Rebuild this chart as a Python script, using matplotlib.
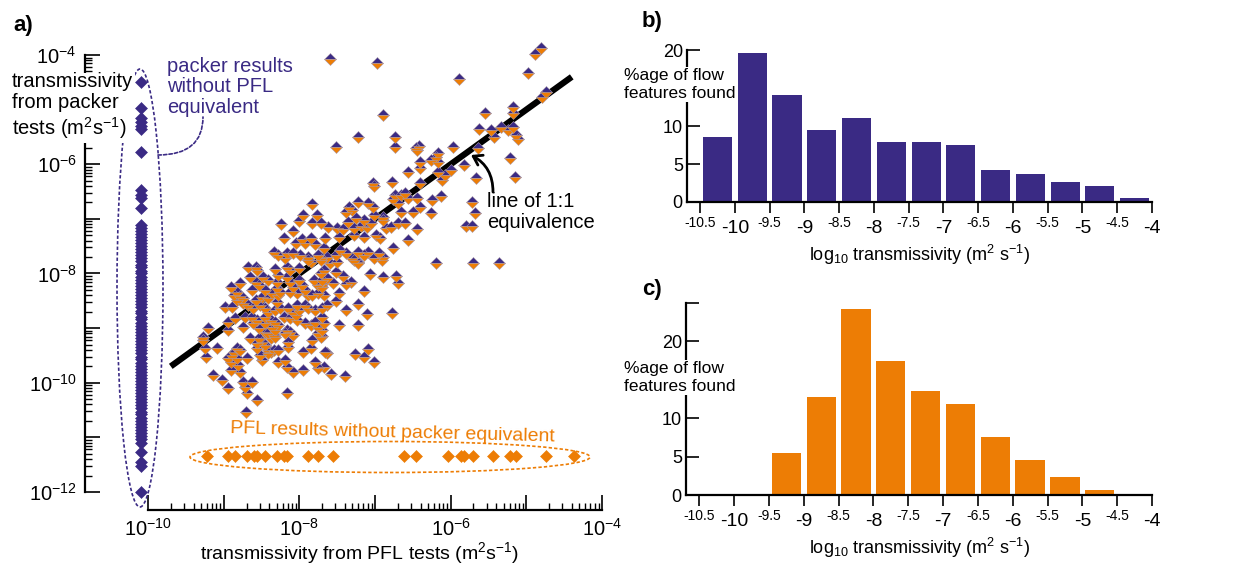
import numpy as np
import matplotlib.pyplot as plt
from matplotlib.patches import Ellipse, FancyArrowPatch
from matplotlib.ticker import FixedLocator, FuncFormatter, NullFormatter

plt.rcParams['font.family'] = ['Liberation Sans', 'DejaVu Sans']
plt.rcParams['mathtext.fontset'] = 'custom'
plt.rcParams['mathtext.rm'] = 'Liberation Sans'
plt.rcParams['mathtext.it'] = 'Liberation Sans:italic'
plt.rcParams['mathtext.bf'] = 'Liberation Sans:bold'

PURPLE = '#3a2a84'
ORANGE = '#ed7d05'

# log10 transmissivity of tests found by both methods (PFL, packer)
pfl_log = [
    -7.59, -6.97, -5.89, -4.81, -4.89, -4.98, -4.74, -4.79, -5.18, -5.17,
    -5.54, -6.90, -5.63, -5.47, -5.34, -5.24, -5.17, -5.43, -5.14, -5.11,
    -7.23, -6.74, -7.51, -6.74, -6.42, -6.46, -5.97, -5.64, -6.45, -6.17,
    -6.20, -6.26, -6.17, -6.40, -6.40, -6.57, -6.17, -6.07, -6.11, -6.77,
    -7.03, -7.02, -6.40, -6.73, -6.66, -6.60, -6.57, -6.76, -6.44, -6.13,
    -6.25, -7.22, -7.09, -7.03, -6.69, -7.35, -7.30, -7.39, -6.41, -6.66,
    -6.50, -6.26, -6.89, -6.90, -7.02, -7.25, -7.15, -7.36, -6.69, -6.60,
    -7.19, -7.10, -7.06, -6.86, -6.79, -7.62, -7.50, -7.42, -7.28, -6.44,
    -7.28, -7.15, -6.99, -6.93, -7.48, -7.66, -6.57, -7.68, -6.76, -7.46,
    -7.39, -7.52, -7.22, -7.09, -7.15, -6.95, -6.90, -7.63, -7.72, -7.30,
    -7.23, -6.20, -7.02, -5.83, -6.00, -5.22, -5.66, -5.15, -5.72, -5.68,
    -5.80, -5.72, -5.71, -5.36, -6.91, -7.28, -7.22, -7.59, -7.50, -7.68,
    -7.72, -7.52, -7.07, -6.90, -6.72, -6.69, -7.42, -7.32, -7.39, -7.63,
    -7.55, -7.70, -7.15, -7.68, -7.48, -7.51, -7.23, -7.63, -7.38, -7.10,
    -6.78, -7.70, -7.47, -7.23, -7.70, -7.64, -7.09, -7.26, -7.15, -7.02,
    -7.68, -7.58, -7.40, -7.83, -7.95, -7.77, -8.01, -7.83, -7.72, -8.24,
    -8.08, -8.20, -8.05, -7.96, -7.92, -7.85, -7.79, -8.34, -8.28, -8.16,
    -8.09, -7.99, -8.19, -7.88, -7.76, -8.32, -8.28, -8.68, -8.58, -8.56,
    -8.16, -8.12, -8.01, -7.85, -7.89, -7.72, -8.65, -8.48, -8.41, -8.58,
    -8.54, -8.29, -8.29, -8.16, -8.12, -8.78, -8.01, -7.96, -7.92, -8.08,
    -8.03, -7.81, -7.76, -7.70, -7.70, -8.91, -8.82, -8.87, -8.78, -8.62,
    -8.45, -8.36, -8.28, -7.89, -7.76, -8.49, -8.41, -8.74, -8.25, -8.12,
    -7.83, -8.82, -8.58, -8.29, -8.98, -8.89, -8.74, -8.68, -8.61, -8.52,
    -8.45, -8.41, -8.32, -8.25, -8.15, -8.09, -8.01, -8.03, -7.92, -7.89,
    -7.79, -7.70, -8.85, -8.95, -8.72, -8.62, -8.56, -8.61, -8.45, -8.38,
    -8.45, -8.32, -8.28, -8.36, -8.21, -8.12, -8.05, -8.03, -7.92, -7.85,
    -7.79, -7.76, -7.68, -9.21, -8.74, -8.94, -8.54, -8.45, -8.41, -8.32,
    -8.34, -8.16, -8.12, -8.09, -8.19, -7.76, -7.72, -7.70, -9.27, -9.28,
    -8.65, -8.54, -8.49, -8.56, -8.38, -8.32, -8.45, -8.15, -8.15, -7.83,
    -9.25, -9.09, -8.56, -8.42, -8.38, -8.34, -8.28, -8.87, -8.82, -8.78,
    -8.89, -7.95, -7.85, -7.66, -9.23, -8.95, -8.91, -8.82, -8.69, -8.49,
    -8.41, -8.52, -8.28, -8.19, -8.16, -7.79, -7.76, -8.91, -8.78, -8.08,
    -7.95, -9.14, -9.02, -8.75, -8.72, -8.62, -8.95, -8.69, -8.56, -8.16,
    -8.70, -8.81,
]
packer_log = [
    -4.07, -4.14, -4.44, -3.87, -3.98, -4.33, -4.67, -4.77, -4.95, -5.06,
    -5.06, -5.10, -5.35, -5.37, -5.32, -5.37, -5.32, -5.50, -5.46, -5.53,
    -5.50, -5.50, -5.68, -5.68, -5.66, -5.70, -5.68, -5.70, -5.74, -5.79,
    -5.86, -5.92, -5.96, -5.96, -6.07, -6.14, -6.14, -6.19, -6.29, -6.32,
    -6.34, -6.40, -6.34, -6.56, -6.56, -6.52, -6.62, -6.63, -6.62, -6.58,
    -6.65, -6.69, -6.71, -6.78, -6.71, -6.78, -6.84, -6.87, -6.78, -6.87,
    -6.87, -6.89, -6.96, -7.02, -6.93, -6.98, -7.02, -7.05, -7.07, -7.07,
    -7.13, -7.15, -7.07, -7.16, -7.15, -7.15, -7.16, -7.18, -7.16, -7.18,
    -7.29, -7.33, -7.29, -7.35, -7.33, -7.35, -7.38, -7.53, -7.53, -7.57,
    -7.62, -7.66, -7.60, -7.60, -7.66, -7.62, -7.70, -7.70, -7.71, -7.71,
    -7.79, -7.81, -7.71, -6.01, -6.10, -5.88, -6.25, -6.23, -6.69, -6.89,
    -7.13, -7.13, -7.81, -7.81, -7.75, -7.75, -7.81, -7.81, -7.79, -7.93,
    -7.99, -7.97, -8.01, -8.06, -8.04, -8.17, -8.04, -8.15, -8.19, -8.08,
    -8.17, -8.19, -8.32, -8.39, -8.36, -8.50, -8.56, -8.58, -8.67, -8.74,
    -8.72, -8.79, -8.94, -8.94, -9.14, -9.45, -9.38, -9.47, -9.53, -9.62,
    -9.71, -9.84, -9.88, -6.73, -6.93, -6.93, -7.04, -7.07, -7.07, -7.09,
    -7.22, -7.35, -7.44, -7.37, -7.44, -7.35, -7.46, -7.60, -7.66, -7.62,
    -7.62, -7.66, -7.71, -7.70, -7.66, -7.92, -8.03, -7.88, -7.88, -7.93,
    -7.88, -7.93, -7.90, -7.79, -7.75, -7.75, -8.06, -8.06, -8.12, -8.15,
    -8.21, -8.15, -8.26, -8.06, -8.15, -8.17, -8.12, -8.21, -8.30, -8.25,
    -8.36, -8.12, -8.21, -8.12, -8.25, -8.25, -8.34, -8.39, -8.41, -8.30,
    -8.30, -8.36, -8.39, -8.39, -8.36, -8.43, -8.45, -8.45, -8.34, -8.34,
    -8.39, -8.48, -8.48, -8.52, -8.61, -8.61, -8.54, -8.58, -8.63, -8.58,
    -8.63, -8.70, -8.67, -8.63, -8.63, -8.70, -8.67, -8.58, -8.58, -8.63,
    -8.67, -8.63, -8.81, -8.89, -8.79, -8.79, -8.85, -8.90, -8.79, -8.85,
    -8.90, -8.89, -8.94, -8.98, -8.79, -8.81, -8.76, -8.85, -8.90, -8.94,
    -8.89, -8.98, -8.90, -9.00, -8.98, -9.03, -9.00, -9.07, -9.09, -9.03,
    -9.12, -9.03, -9.07, -9.12, -9.09, -9.09, -9.16, -9.03, -9.16, -9.22,
    -9.18, -9.18, -9.25, -9.27, -9.18, -9.16, -9.31, -9.25, -9.34, -9.22,
    -9.36, -9.36, -9.36, -9.40, -9.44, -9.40, -9.40, -9.44, -9.36, -9.40,
    -9.49, -9.44, -9.36, -9.44, -9.53, -9.55, -9.62, -9.55, -9.55, -9.58,
    -9.45, -9.49, -9.62, -9.58, -9.71, -9.62, -9.73, -9.77, -9.80, -9.80,
    -9.77, -9.86, -9.95, -9.99, -10.08, -9.99, -10.10, -10.19, -10.32, -10.19,
    -10.53, -9.67,
]

# packer results with no PFL equivalent (log10 T)
packer_only_log = [
    -4.49, -4.97, -5.15, -5.22, -5.30, -5.35, -5.77, -6.47, -6.56, -6.62,
    -6.80, -7.11, -7.17, -7.22, -7.27, -7.33, -7.38, -7.44, -7.50, -7.56,
    -7.61, -7.67, -7.72, -7.78, -7.84, -7.89, -7.95, -8.00, -8.06, -8.12,
    -8.17, -8.23, -8.28, -8.34, -8.40, -8.45, -8.51, -8.56, -8.62, -8.68,
    -8.73, -8.79, -8.84, -8.90, -8.96, -9.01, -9.07, -9.12, -9.18, -9.24,
    -9.29, -9.35, -9.40, -9.46, -9.52, -9.57, -9.63, -9.69, -9.74, -9.80,
    -9.85, -9.91, -9.97, -10.02, -10.08, -10.13, -10.19, -10.25, -10.30,
    -10.36, -10.41, -10.47, -10.53, -10.58, -10.64, -10.70, -10.75, -10.81,
    -10.86, -10.92, -10.98, -11.03, -11.10, -11.27, -11.45, -11.52, -12.00,
]
# PFL results with no packer equivalent (log10 T)
pfl_only_log = [
    -9.22, -8.95, -8.85, -8.69, -8.60, -8.56, -8.45, -8.29, -8.21, -8.16,
    -7.88, -7.75, -7.56, -6.62, -6.46, -6.04, -5.87, -5.83, -5.71, -5.44,
    -5.21, -5.14, -4.74, -4.37,
]
packer_only_x = 10 ** -10.1   # plotted in a column left of the PFL axis
pfl_only_y = 10 ** -11.34     # plotted in a row below the cloud
line_11 = [10 ** -9.7, 10 ** -4.4]

# histograms (% of flow features per half decade)
bin_centres = [-10.25, -9.75, -9.25, -8.75, -8.25, -7.75, -7.25, -6.75,
               -6.25, -5.75, -5.25, -4.75, -4.25]
packer_pct = [8.5, 19.6, 14.1, 9.5, 11.0, 7.9, 7.9, 7.5, 4.2, 3.7, 2.6, 2.1, 0.5]
pfl_pct = [0, 0, 5.5, 12.8, 24.2, 17.4, 13.6, 11.8, 7.6, 4.6, 2.35, 0.65, 0]
major_x = [-10, -9, -8, -7, -6, -5, -4]
minor_x = [-10.5, -9.5, -8.5, -7.5, -6.5, -5.5, -4.5]

W, H = 1238, 564
fig = plt.figure(figsize=(W / 100, H / 100), dpi=100)


def fx(px):
    return px / W


def fy(py):
    return 1 - py / H


def box(l, t, r, b):
    return [fx(l), fy(b), (r - l) / W, (b - t) / H]


# ---------------- panel a ----------------
ax = fig.add_axes(box(85, 40, 602, 510))
ax.set_xscale('log')
ax.set_yscale('log')
ax.set_xlim(10 ** -10.834, 1e-4)
ax.set_ylim(10 ** -12.33, 10 ** -3.725)
for s in ['top', 'right']:
    ax.spines[s].set_visible(False)
ax.spines['left'].set_bounds(1e-12, 1e-4)
ax.spines['bottom'].set_bounds(1e-10, 1e-4)
for s in ['left', 'bottom']:
    ax.spines[s].set_linewidth(1.6)


def even_pow(v, pos):
    e = int(round(np.log10(v)))
    return r'$\mathregular{10^{%d}}$' % e if e % 2 == 0 else ''


ax.xaxis.set_major_locator(FixedLocator([10.0 ** e for e in range(-10, -3)]))
ax.xaxis.set_minor_locator(FixedLocator([m * 10.0 ** e for e in range(-10, -4) for m in range(2, 10)]))
ax.yaxis.set_major_locator(FixedLocator([10.0 ** e for e in range(-12, -3)]))
ax.yaxis.set_minor_locator(FixedLocator([m * 10.0 ** e for e in range(-12, -4) for m in range(2, 10)]))
ax.xaxis.set_major_formatter(FuncFormatter(even_pow))
ax.yaxis.set_major_formatter(FuncFormatter(even_pow))
ax.xaxis.set_minor_formatter(NullFormatter())
ax.yaxis.set_minor_formatter(NullFormatter())
ax.tick_params(which='major', direction='in', length=11, width=1.2, labelsize=14.5)
ax.tick_params(which='minor', direction='in', length=5, width=1.0)
ax.tick_params(axis='y', which='major', pad=6)
ax.tick_params(axis='x', which='major', pad=6)

ax.plot(line_11, line_11, color='black', lw=4.5, solid_capstyle='butt', zorder=2)
ax.plot(10.0 ** np.array(pfl_log), 10.0 ** np.array(packer_log), ls='none',
        marker='D', ms=6.5, fillstyle='top', markerfacecolor=PURPLE,
        markerfacecoloralt=ORANGE, markeredgecolor='#a898a8', markeredgewidth=0.4,
        zorder=3, clip_on=False)
ax.plot(np.full(len(packer_only_log), packer_only_x), 10.0 ** np.array(packer_only_log),
        ls='none', marker='D', ms=6.5, color=PURPLE, mec=PURPLE, mew=0.4, zorder=3, clip_on=False)
ax.plot(10.0 ** np.array(pfl_only_log), np.full(len(pfl_only_log), pfl_only_y),
        ls='none', marker='D', ms=6.5, color=ORANGE, mec=ORANGE, mew=0.4, zorder=3, clip_on=False)

# ellipses and annotations (figure pixel positions)
fig.add_artist(Ellipse((fx(140), fy(288)), 46 / W, 438 / H, transform=fig.transFigure,
                       fill=False, ec=PURPLE, lw=1.2, ls=(0, (2, 1.3))))
fig.add_artist(Ellipse((fx(390), fy(457)), 400 / W, 31 / H, transform=fig.transFigure,
                       fill=False, ec=ORANGE, lw=1.2, ls=(0, (2, 1.3))))
fig.add_artist(FancyArrowPatch((fx(158), fy(155)), (fx(203), fy(117)), transform=fig.transFigure,
                               arrowstyle='-', connectionstyle='angle3,angleA=0,angleB=90',
                               color=PURPLE, lw=1.2, ls=(0, (2, 1.3)), shrinkA=0, shrinkB=0))
fig.text(fx(167), fy(57), 'packer results\nwithout PFL\nequivalent', color=PURPLE,
         fontsize=14.5, va='top', linespacing=1.1)
fig.text(fx(392), fy(433), 'PFL results without packer equivalent', color=ORANGE,
         fontsize=14, ha='center', va='center', rotation=-1.5)
fig.text(fx(487), fy(212), 'line of 1:1\nequivalence', fontsize=14.5, va='center', linespacing=1.1)
fig.add_artist(FancyArrowPatch((fx(493), fy(192)), (fx(471), fy(155)), transform=fig.transFigure,
                               arrowstyle='->,head_length=6,head_width=4', connectionstyle='arc3,rad=0.3',
                               color='black', lw=2, shrinkA=0, shrinkB=0))

fig.text(fx(12), fy(72), 'transmissivity\nfrom packer\ntests (m$^2$s$^{-1}$)', fontsize=14.5,
         va='top', linespacing=1.15, bbox=dict(fc='white', ec='none', pad=1))
fig.text(fx(359), fy(553), 'transmissivity from PFL tests (m$^2$s$^{-1}$)', fontsize=14,
         ha='center', va='center')
fig.text(fx(13), fy(25), 'a)', fontsize=16, fontweight='bold', va='center')


# ---------------- panels b and c ----------------
def hist_panel(axh, values, color, ytop, yticks, ylabels):
    axh.bar(bin_centres, values, width=0.42, color=color, zorder=2)
    axh.set_xlim(-10.69, -4)
    axh.set_ylim(0, ytop)
    for s in ['top', 'right']:
        axh.spines[s].set_visible(False)
    for s in ['left', 'bottom']:
        axh.spines[s].set_linewidth(1.6)
    axh.spines['left'].set_bounds(0, yticks[-1])
    axh.set_xticks(major_x)
    axh.set_xticklabels([str(v) for v in major_x], fontsize=14)
    axh.set_xticks(minor_x, minor=True)
    axh.set_xticklabels([str(v) for v in minor_x], minor=True, fontsize=10)
    axh.set_yticks(yticks)
    axh.set_yticklabels(ylabels, fontsize=13)
    axh.tick_params(axis='x', which='both', direction='out', length=8, width=1.2)
    axh.tick_params(axis='x', which='major', pad=5)
    axh.tick_params(axis='x', which='minor', pad=2)
    axh.tick_params(axis='y', direction='in', length=9, width=1.2, pad=3)


axb = fig.add_axes(box(687, 45, 1152, 202))
hist_panel(axb, packer_pct, PURPLE, 20.66, [0, 5, 10, 20], ['0', '5', '10', '20'])
axc = fig.add_axes(box(686, 300, 1152, 495))
hist_panel(axc, pfl_pct, ORANGE, 25.4, [0, 5, 10, 20, 25], ['0', '5', '10', '20', ''])

for ty, lab_y, xl_y, tag in [(21, 68, 255, 'b)'), (290, 361, 548, 'c)')]:
    fig.text(fx(642), fy(ty), tag, fontsize=16, fontweight='bold', va='center')
    fig.text(fx(624), fy(lab_y), '%age of flow\nfeatures found', fontsize=12.5, va='top',
             linespacing=1.25, bbox=dict(fc='white', ec='none', pad=0.5))
    fig.text(fx(920), fy(xl_y), 'log$_{10}$ transmissivity (m$^2$ s$^{-1}$)', fontsize=13,
             ha='center', va='center')

fig.savefig('out.png', dpi=100)
